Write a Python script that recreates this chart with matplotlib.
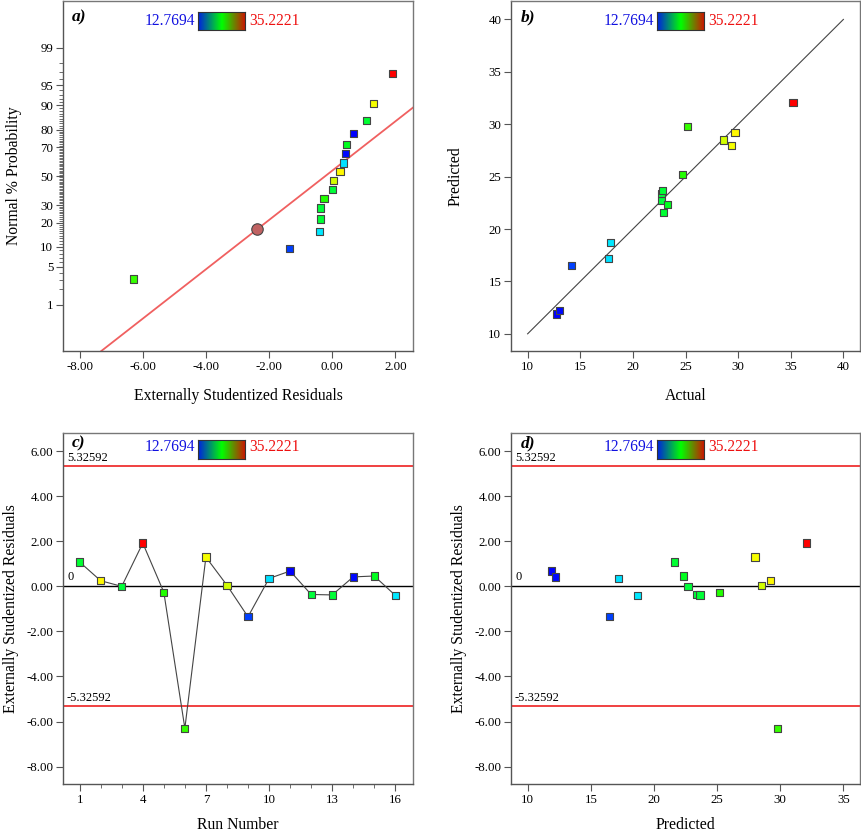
import matplotlib
matplotlib.use("agg")
import matplotlib.pyplot as plt
from matplotlib.colors import LinearSegmentedColormap
from matplotlib.ticker import FixedLocator
from statistics import NormalDist
import numpy as np

plt.rcParams['font.family'] = ['Liberation Serif', 'DejaVu Serif']
plt.rcParams['axes.unicode_minus'] = False

# data per run
run = list(range(1, 17))
residual = [1.08, 0.25, 0.00, 1.92, -0.26, -6.30, 1.30, 0.05,
            -1.35, 0.35, 0.68, -0.36, -0.38, 0.42, 0.46, -0.40]
predicted = [21.6, 29.2, 22.7, 32.1, 25.2, 29.8, 28.0, 28.5,
             16.5, 17.2, 11.9, 23.4, 23.65, 12.2, 22.35, 18.7]
actual = [22.9, 29.7, 22.7, 35.22, 24.7, 25.2, 29.4, 28.6,
          14.2, 17.7, 12.77, 22.7, 22.85, 13.0, 23.3, 17.9]

cmin, cmax = 12.7694, 35.2221
limit = 5.32592
# highlighted point and fitted normal line in panel a
sel_x, sel_p = -2.37, 16.8
line_mu, line_sigma = -0.22, 2.24

prob_ticks = [1, 5, 10, 20, 30, 50, 70, 80, 90, 95, 99]

point_cmap = LinearSegmentedColormap.from_list(
    'pts', ['#0000ff', '#00ffff', '#00ff00', '#ffff00', '#ff0000'])
bar_cmap = LinearSegmentedColormap.from_list(
    'bar', ['#0020e0', '#00ff00', '#d01000'])
colors = [point_cmap((a - cmin) / (cmax - cmin)) for a in actual]

ppf = NormalDist().inv_cdf
tick_col = '#555555'


def style(ax):
    for s in ax.spines.values():
        s.set_color('#777777')
        s.set_linewidth(1.0)
    ax.spines['left'].set_color('#555555')
    ax.spines['bottom'].set_color('#555555')
    ax.tick_params(direction='out', length=5, width=0.8, color=tick_col,
                   labelsize=9.3, pad=2)
    ax.tick_params(which='minor', direction='out', length=3, width=0.6,
                   color=tick_col)


def legend(ax, label, lx, by, box):
    x0, x1 = box
    ax.text(lx, by, label, transform=ax.transAxes, fontsize=12.5,
            fontweight='bold', style='italic', va='center', ha='left')
    ax.text(x0 - 0.008, by - 0.01, '%.4f' % cmin, transform=ax.transAxes,
            fontsize=11.2, color='#1010e0', va='center', ha='right')
    ax.text(x1 + 0.012, by - 0.01, '%.4f' % cmax, transform=ax.transAxes,
            fontsize=11.2, color='#ee1010', va='center', ha='left')


def colorbox(ax, x0, x1, yc):
    h = 0.052
    cax = ax.inset_axes([x0, yc - h / 2, x1 - x0, h])
    cax.imshow(np.linspace(0, 1, 100)[None, :], aspect='auto', cmap=bar_cmap)
    cax.set_xticks([])
    cax.set_yticks([])
    for s in cax.spines.values():
        s.set_color('#333333')
        s.set_linewidth(0.8)


def squares(ax, x, y, c=None):
    ax.scatter(x, y, marker='s', s=27, c=colors if c is None else c,
               edgecolors='#444444', linewidths=0.8, zorder=3)


fig = plt.figure(figsize=(8.62, 8.34), dpi=100)
ax_a = fig.add_axes([0.0731, 0.579, 0.406, 0.4197])
ax_b = fig.add_axes([0.5928, 0.579, 0.4049, 0.4197])
ax_c = fig.add_axes([0.0731, 0.060, 0.406, 0.4209])
ax_d = fig.add_axes([0.5928, 0.060, 0.4049, 0.4209])

# a) normal probability plot
order = np.argsort(residual)
n = len(residual)
pz = [ppf((i + 0.5) / n) for i in range(n)]
squares(ax_a, np.array(residual)[order], pz, [colors[i] for i in order])
xl = np.array([-8.53, 2.56])
ax_a.plot(xl, (xl - line_mu) / line_sigma, color='#f06060', lw=1.3, zorder=2)
ax_a.scatter([sel_x], [ppf(sel_p / 100)], s=68, color='#c06262',
             edgecolors='#444444', linewidths=0.8, zorder=4)
ax_a.set_xlim(-8.53, 2.56)
ax_a.set_ylim(-3.17, 3.17)
ax_a.set_xticks([-8, -6, -4, -2, 0, 2])
ax_a.set_xticklabels(['%.2f' % v for v in [-8, -6, -4, -2, 0, 2]])
ax_a.set_yticks([ppf(p / 100) for p in prob_ticks])
ax_a.set_yticklabels([str(p) for p in prob_ticks])
minor = [ppf(p / 100) for p in range(2, 99) if p not in prob_ticks]
ax_a.yaxis.set_minor_locator(FixedLocator(minor))
ax_a.set_xlabel('Externally Studentized Residuals', fontsize=11.3, labelpad=11)
ax_a.set_ylabel('Normal % Probability', fontsize=11.3, labelpad=13)
style(ax_a)
legend(ax_a, 'a)', 0.025, 0.953, (0.385, 0.52))
colorbox(ax_a, 0.385, 0.52, 0.943)

# b) predicted vs actual
ax_b.plot([10, 40], [10, 40], color='#444444', lw=0.8, zorder=2)
squares(ax_b, actual, predicted)
ax_b.set_xlim(8.42, 41.58)
ax_b.set_ylim(8.35, 41.75)
ax_b.set_xticks(range(10, 41, 5))
ax_b.set_yticks(range(10, 41, 5))
ax_b.set_xlabel('Actual', fontsize=11.3, labelpad=11)
ax_b.set_ylabel('Predicted', fontsize=11.3, labelpad=18)
style(ax_b)
legend(ax_b, 'b)', 0.029, 0.953, (0.418, 0.554))
colorbox(ax_b, 0.418, 0.554, 0.943)

# c) residuals vs run, d) residuals vs predicted
for ax, x in ((ax_c, run), (ax_d, predicted)):
    ax.axhline(limit, color='#ee2020', lw=1.2, zorder=1)
    ax.axhline(-limit, color='#ee2020', lw=1.2, zorder=1)
    ax.axhline(0, color='black', lw=1.0, zorder=1)
    ax.text(0.011, limit + 0.12, '%.5f' % limit, transform=ax.get_yaxis_transform(),
            fontsize=9, va='bottom', ha='left')
    ax.text(0.011, -limit + 0.12, '-%.5f' % limit, transform=ax.get_yaxis_transform(),
            fontsize=9, va='bottom', ha='left')
    ax.text(0.014, 0.14, '0', transform=ax.get_yaxis_transform(),
            fontsize=9, va='bottom', ha='left')
    ax.set_ylim(-8.77, 6.81)
    ax.set_yticks([6, 4, 2, 0, -2, -4, -6, -8])
    ax.set_yticklabels(['%.2f' % v for v in [6, 4, 2, 0, -2, -4, -6, -8]])
    ax.set_ylabel('Externally Studentized Residuals', fontsize=11.3, labelpad=5)
    style(ax)

ax_c.plot(run, residual, color='#444444', lw=0.8, zorder=2)
squares(ax_c, run, residual)
ax_c.set_xlim(0.21, 16.84)
ax_c.set_xticks([1, 4, 7, 10, 13, 16])
ax_c.xaxis.set_minor_locator(FixedLocator([r for r in run if (r - 1) % 3]))
ax_c.set_xlabel('Run Number', fontsize=11.3, labelpad=8)
legend(ax_c, 'c)', 0.025, 0.970, (0.385, 0.52))
colorbox(ax_c, 0.385, 0.52, 0.953)

squares(ax_d, predicted, residual)
ax_d.set_xlim(8.68, 36.32)
ax_d.set_xticks(range(10, 36, 5))
ax_d.set_xlabel('Predicted', fontsize=11.3, labelpad=8)
legend(ax_d, 'd)', 0.029, 0.970, (0.418, 0.554))
colorbox(ax_d, 0.418, 0.554, 0.953)

fig.savefig('out.png', dpi=100)
